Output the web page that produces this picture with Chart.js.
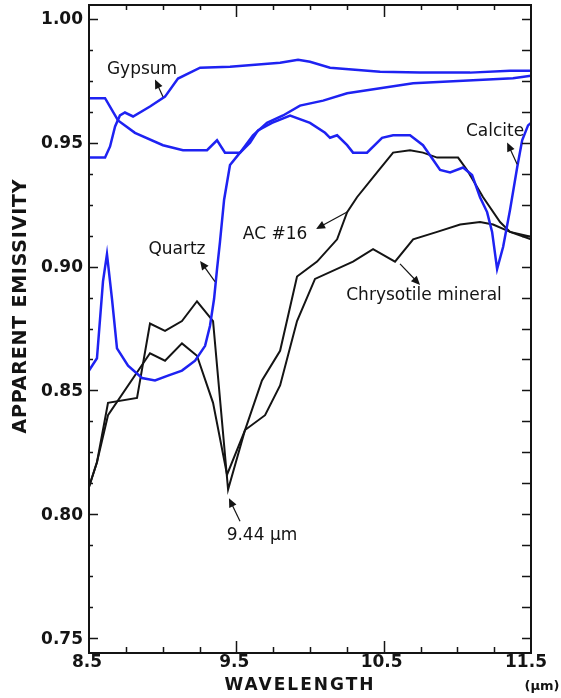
<!DOCTYPE html>
<html>
<head>
<meta charset="utf-8">
<script src="https://cdn.jsdelivr.net/npm/chart.js@4.4.0/dist/chart.umd.js"></script>
<style>
    html, body { margin: 0; padding: 0; background: #fff; }
    .chart-box { position: relative; width: 561px; height: 698px; }
</style>
</head>
<body>
<div class="chart-box"><canvas id="emissivity"></canvas></div>
<script>
// Wavelength (um) / apparent emissivity
const gypsumX = [8.5, 8.609, 8.643, 8.677, 8.71, 8.744, 8.799, 8.914, 9.016, 9.104, 9.254, 9.457, 9.797, 9.919, 10.0, 10.136, 10.476, 10.747, 11.087, 11.358, 11.5];
const gypsumY = [0.944, 0.944, 0.9485, 0.9566, 0.961, 0.9622, 0.9606, 0.9646, 0.9686, 0.9759, 0.9803, 0.9807, 0.9823, 0.9835, 0.9827, 0.9803, 0.9787, 0.9783, 0.9783, 0.9791, 0.9791];

const quartzX = [8.5, 8.554, 8.595, 8.622, 8.656, 8.69, 8.765, 8.86, 8.948, 9.036, 9.131, 9.22, 9.288, 9.321, 9.349, 9.369, 9.389, 9.417, 9.457, 9.525, 9.613, 9.708, 9.817, 9.932, 10.089, 10.252, 10.476, 10.7, 11.039, 11.378, 11.5];
const quartzY = [0.858, 0.863, 0.894, 0.905, 0.887, 0.867, 0.86, 0.855, 0.854, 0.856, 0.858, 0.862, 0.868, 0.876, 0.887, 0.899, 0.91, 0.927, 0.941, 0.946, 0.953, 0.958, 0.961, 0.965, 0.967, 0.970, 0.972, 0.974, 0.975, 0.976, 0.977];

const calciteX = [8.5, 8.609, 8.697, 8.812, 9.002, 9.138, 9.301, 9.369, 9.423, 9.525, 9.593, 9.647, 9.742, 9.865, 10.0, 10.102, 10.136, 10.184, 10.252, 10.292, 10.387, 10.489, 10.564, 10.679, 10.767, 10.883, 10.951, 11.039, 11.1, 11.154, 11.202, 11.236, 11.27, 11.311, 11.358, 11.406, 11.44, 11.48, 11.5];
const calciteY = [0.968, 0.968, 0.959, 0.954, 0.949, 0.947, 0.947, 0.951, 0.946, 0.946, 0.950, 0.955, 0.958, 0.961, 0.958, 0.954, 0.952, 0.953, 0.949, 0.946, 0.946, 0.952, 0.953, 0.953, 0.949, 0.939, 0.938, 0.940, 0.937, 0.928, 0.922, 0.914, 0.899, 0.908, 0.923, 0.940, 0.951, 0.957, 0.958];

const ac16X = [8.5, 8.554, 8.629, 8.826, 8.914, 9.016, 9.131, 9.233, 9.342, 9.444, 9.559, 9.674, 9.797, 9.912, 10.048, 10.184, 10.252, 10.319, 10.455, 10.564, 10.679, 10.767, 10.863, 11.005, 11.066, 11.175, 11.29, 11.358, 11.5];
const ac16Y = [0.811, 0.821, 0.845, 0.847, 0.877, 0.874, 0.878, 0.886, 0.878, 0.810, 0.834, 0.854, 0.866, 0.896, 0.902, 0.911, 0.922, 0.928, 0.938, 0.946, 0.947, 0.946, 0.944, 0.944, 0.939, 0.928, 0.918, 0.914, 0.911];

const chrysotileX = [8.5, 8.554, 8.629, 8.914, 9.016, 9.131, 9.233, 9.342, 9.437, 9.559, 9.695, 9.797, 9.912, 10.034, 10.292, 10.428, 10.577, 10.7, 10.863, 11.019, 11.154, 11.243, 11.358, 11.5];
const chrysotileY = [0.811, 0.821, 0.840, 0.865, 0.862, 0.869, 0.864, 0.845, 0.816, 0.834, 0.840, 0.852, 0.878, 0.895, 0.902, 0.907, 0.902, 0.911, 0.914, 0.917, 0.918, 0.917, 0.914, 0.912];

// Axis ticks
const xTickLabels = ['8.5', '9.5', '10.5', '11.5'];
const yTickLabels = ['0.75', '0.80', '0.85', '0.90', '0.95', '1.00'];

const BLUE = '#1e22f2';
const INK = '#141414';

function toPoints(xs, ys) {
    return xs.map((x, i) => ({ x: x, y: ys[i] }));
}

function series(label, xs, ys, color, width) {
    return {
        label: label,
        data: toPoints(xs, ys),
        borderColor: color,
        borderWidth: width,
        pointRadius: 0,
        tension: 0,
        fill: false
    };
}

// label text, label centre and arrow (tail -> head) in data units
const callouts = [
    { text: 'Gypsum', at: [8.86, 0.9795], tail: [9.002, 0.9686], head: [8.948, 0.9755] },
    { text: 'Quartz', at: [9.097, 0.9067], tail: [9.355, 0.8939], head: [9.254, 0.9023] },
    { text: 'AC #16', at: [9.763, 0.9131], tail: [10.252, 0.922], head: [10.041, 0.9152] },
    { text: 'Chrysotile mineral', at: [10.774, 0.8882], tail: [10.611, 0.9011], head: [10.747, 0.8926] },
    { text: 'Calcite', at: [11.256, 0.9546], tail: [11.406, 0.9413], head: [11.338, 0.9501] },
    { text: '9.44 \u00b5m', at: [9.674, 0.7916], tail: [9.525, 0.7972], head: [9.45, 0.8065] }
];

function drawArrow(ctx, x1, y1, x2, y2) {
    const ang = Math.atan2(y2 - y1, x2 - x1);
    ctx.beginPath();
    ctx.moveTo(x1, y1);
    ctx.lineTo(x2 - 5 * Math.cos(ang), y2 - 5 * Math.sin(ang));
    ctx.stroke();
    ctx.beginPath();
    ctx.moveTo(x2, y2);
    ctx.lineTo(x2 - 9 * Math.cos(ang) + 4 * Math.sin(ang), y2 - 9 * Math.sin(ang) - 4 * Math.cos(ang));
    ctx.lineTo(x2 - 9 * Math.cos(ang) - 4 * Math.sin(ang), y2 - 9 * Math.sin(ang) + 4 * Math.cos(ang));
    ctx.closePath();
    ctx.fill();
}

const framePlugin = {
    id: 'frame',
    afterDatasetsDraw(chart) {
        const ctx = chart.ctx;
        const a = chart.chartArea;
        const xs = chart.scales.x;
        const ys = chart.scales.y;
        ctx.save();
        ctx.strokeStyle = INK;
        ctx.fillStyle = INK;

        // frame
        ctx.lineWidth = 2;
        ctx.strokeRect(a.left, a.top, a.right - a.left, a.bottom - a.top);

        // inward ticks
        ctx.lineWidth = 1.5;
        ctx.beginPath();
        for (let i = 0; i <= 20; i++) {
            const v = 0.75 + i * 0.0125;
            const py = Math.round(ys.getPixelForValue(v)) + 0.5;
            const major = i % 4 === 0;
            ctx.moveTo(a.left, py); ctx.lineTo(a.left + (major ? 9 : 4), py);
            ctx.moveTo(a.right, py); ctx.lineTo(a.right - 9, py);
        }
        for (let i = 1; i < 12; i++) {
            const v = 8.5 + i * 0.25;
            const px = Math.round(xs.getPixelForValue(v)) + 0.5;
            const major = i % 4 === 0;
            ctx.moveTo(px, a.bottom); ctx.lineTo(px, a.bottom - (major ? 12 : 6));
            ctx.moveTo(px, a.top); ctx.lineTo(px, a.top + (major ? 12 : 5));
        }
        ctx.stroke();

        // tick labels
        ctx.font = 'bold 17px "DejaVu Sans"';
        ctx.textAlign = 'right';
        ctx.textBaseline = 'middle';
        yTickLabels.forEach(t => {
            ctx.fillText(t, a.left - 6, ys.getPixelForValue(parseFloat(t)) + 1);
        });
        ctx.textAlign = 'center';
        xTickLabels.forEach((t, i) => {
            const px = xs.getPixelForValue(parseFloat(t));
            ctx.fillText(t, i === xTickLabels.length - 1 ? px - 5 : px - 2, a.bottom + 10);
        });

        // axis titles
        ctx.font = 'bold 17px "DejaVu Sans"';
        ctx.letterSpacing = '2px';
        ctx.fillText('WAVELENGTH', 300, 686);
        ctx.letterSpacing = '0px';
        ctx.font = 'bold 13px "DejaVu Sans"';
        ctx.fillText('(\u00b5m)', 542, 687);

        ctx.save();
        ctx.translate(21, 306);
        ctx.rotate(-Math.PI / 2);
        ctx.font = 'bold 19px "DejaVu Sans"';
        ctx.letterSpacing = '0.8px';
        ctx.fillText('APPARENT EMISSIVITY', 0, 0);
        ctx.restore();

        // callouts
        ctx.font = '17px "DejaVu Sans"';
        ctx.lineWidth = 1.2;
        callouts.forEach(c => {
            ctx.fillText(c.text, xs.getPixelForValue(c.at[0]), ys.getPixelForValue(c.at[1]));
            drawArrow(ctx,
                xs.getPixelForValue(c.tail[0]), ys.getPixelForValue(c.tail[1]),
                xs.getPixelForValue(c.head[0]), ys.getPixelForValue(c.head[1]));
        });
        ctx.restore();
    }
};

const canvas = document.getElementById('emissivity');
new Chart(canvas.getContext('2d'), {
    type: 'line',
    data: {
        datasets: [
            series('Gypsum', gypsumX, gypsumY, BLUE, 2.5),
            series('Quartz', quartzX, quartzY, BLUE, 2.5),
            series('Calcite', calciteX, calciteY, BLUE, 2.5),
            series('AC #16', ac16X, ac16Y, INK, 2),
            series('Chrysotile mineral', chrysotileX, chrysotileY, INK, 2)
        ]
    },
    options: {
        responsive: true,
        maintainAspectRatio: false,
        animation: false,
        layout: { padding: { left: 89, right: 30, top: 5, bottom: 45 } },
        plugins: {
            legend: { display: false },
            tooltip: { enabled: false }
        },
        scales: {
            x: { type: 'linear', min: 8.5, max: 11.5, display: false },
            y: { type: 'linear', min: 0.744, max: 1.0056, display: false }
        }
    },
    plugins: [framePlugin]
});
</script>
</body>
</html>
